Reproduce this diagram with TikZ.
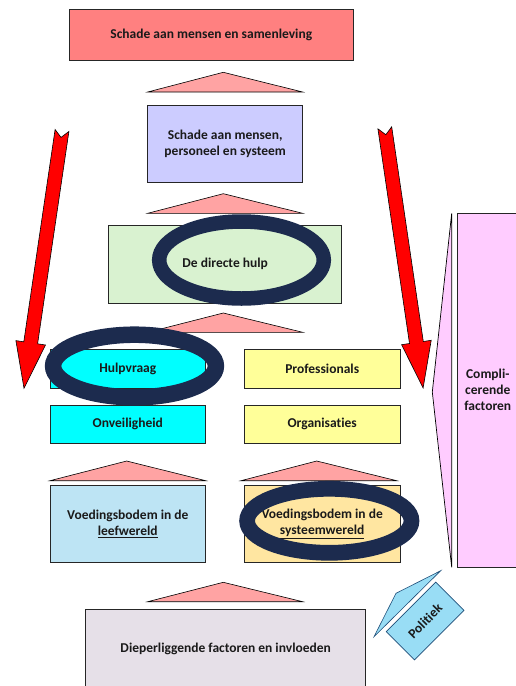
\documentclass[tikz,border=0pt]{standalone}
\usepackage{fontspec}
\setmainfont{Carlito}[Ligatures=NoCommon]
\usetikzlibrary{shapes.geometric}
\definecolor{navy}{HTML}{1C2B4E}
\definecolor{txt}{HTML}{1A1A1A}
\definecolor{cRed}{HTML}{FF8080}
\definecolor{cLav}{HTML}{CCCCFF}
\definecolor{cGreen}{HTML}{D9F2D0}
\definecolor{cCyan}{HTML}{00FFFF}
\definecolor{cYel}{HTML}{FFFF99}
\definecolor{cLblue}{HTML}{BDE4F4}
\definecolor{cTan}{HTML}{FFE6A1}
\definecolor{cGrey}{HTML}{E6E0E8}
\definecolor{cPink}{HTML}{FFCCFF}
\definecolor{cTri}{HTML}{FFA3A3}
\definecolor{cPol}{HTML}{99DDF5}
\definecolor{cPolB}{HTML}{1F4E79}
\begin{document}
\begin{tikzpicture}[x=1pt,y=-1pt,
  box/.style={draw=black!85, line width=0.7pt, align=center, inner sep=0pt,
    text=txt, font=\fontsize{13.5}{16}\selectfont\bfseries},
  tri/.style={fill=cTri, draw=black, line width=0.6pt, line join=miter},
  ring/.style={ellipse, draw=navy, inner sep=0pt},
  redarrow/.style={fill=red, draw=black, line width=0.6pt, line join=miter}]
\useasboundingbox (0,0) rectangle (516,686);

% boxes
\node[box, fill=cRed, minimum width=284pt, minimum height=50.7pt] (top) at (211.3,34.7) {Schade aan mensen en samenleving};
\node[box, fill=cLav, minimum width=155pt, minimum height=77.7pt] (lav) at (225.2,143.8) {Schade aan mensen,\\personeel en systeem};
\node[box, fill=cGreen, minimum width=233pt, minimum height=77.3pt] (hulp) at (225.2,264.3) {De directe hulp};
\node[box, fill=cCyan, minimum width=155.7pt, minimum height=39pt] (vraag) at (127.8,368.8) {Hulpvraag};
\node[box, fill=cCyan, minimum width=155.7pt, minimum height=38.7pt] (onv) at (127.8,424.3) {Onveiligheid};
\node[box, fill=cYel, minimum width=155.7pt, minimum height=39pt] (prof) at (322.2,368.8) {Professionals};
\node[box, fill=cYel, minimum width=155.7pt, minimum height=38.7pt] (org) at (322.2,424.3) {Organisaties};
\node[box, fill=cLblue, minimum width=155.7pt, minimum height=77.7pt] (vleef) at (127.8,523.8) {Voedingsbodem in de\\\underline{leefwereld}};
\node[box, fill=cTan, minimum width=155.7pt, minimum height=77.7pt] (vsys) at (322.2,523.8) {Voedingsbodem in de\\\underline{systeemwereld}};
\node[box, fill=cGrey, minimum width=280pt, minimum height=80pt] (diep) at (225.7,649.3) {Dieperliggende factoren en invloeden};
\node[box, fill=cPink, minimum width=60.3pt, minimum height=353.7pt] (compl) at (487.8,390.2) {Compli-\\cerende\\factoren};

% pink triangles
\draw[tri] (147.7,92) -- (223.3,72.3) -- (302.7,92) -- cycle;
\draw[tri] (147.7,213.3) -- (223.3,193.7) -- (302.7,213.3) -- cycle;
\draw[tri] (147.7,332.3) -- (223.3,313) -- (302.7,332.3) -- cycle;
\draw[tri] (50,480.7) -- (126.7,461) -- (205.7,480.7) -- cycle;
\draw[tri] (241,480.7) -- (316.7,461) -- (396.7,480.7) -- cycle;
\draw[tri] (147.7,601.7) -- (223.3,582.3) -- (302.7,601.7) -- cycle;

% complicating factors wedge
\draw[fill=cPink, draw=black, line width=0.7pt] (451.7,213.3) -- (432.3,392) -- (451.7,567.3) -- cycle;

% politiek
\draw[fill=cPol, draw=cPolB, line width=0.6pt] (374,636.7) -- (396,593.3) -- (440.7,570.7) -- cycle;
\node[draw=cPolB, fill=cPol, line width=0.6pt, minimum width=70pt, minimum height=40pt, rotate=45,
  inner sep=0pt, text=txt, font=\fontsize{13.5}{16}\selectfont\bfseries] (pol) at (425.1,621) {Politiek};

% rings
\node[ring, line width=14.5pt, minimum width=164.6pt, minimum height=77pt] (ring1) at (241.5,260) {};
\node[ring, line width=16.5pt, minimum width=162.8pt, minimum height=62.6pt] (ring2) at (134.5,366) {};
\node[ring, line width=15.7pt, minimum width=164.4pt, minimum height=64pt] (ring3) at (329.3,520.8) {};

% red arrows
\draw[redarrow] (55.1,129.5) -- (61,137.4) -- (68.9,131.5) -- (37.6,343.8) -- (45.5,345)
  -- (24,388.3) -- (15.9,340.6) -- (23.8,341.8) -- cycle;
\draw[redarrow] (377.9,128.8) -- (385.8,134.7) -- (391.7,126.8) -- (423.3,341.5) -- (431.2,340.3)
  -- (423.1,388) -- (401.6,344.7) -- (409.5,343.5) -- cycle;
\end{tikzpicture}
\end{document}
